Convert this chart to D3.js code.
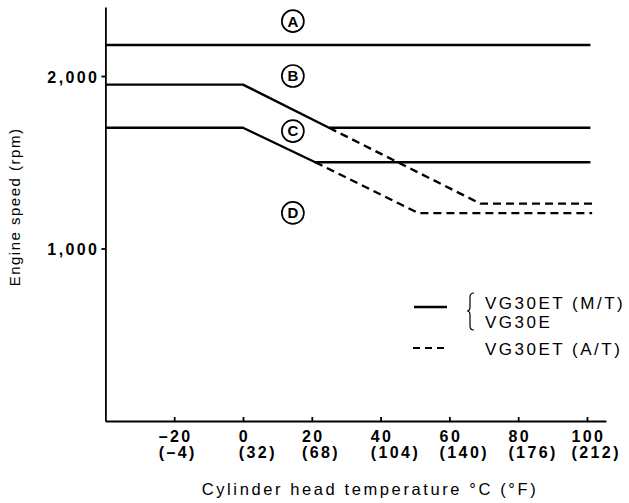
<!DOCTYPE html>
<meta charset="utf-8">

<!-- Load d3.js -->
<script src="https://d3js.org/d3.v7.min.js"></script>

<style>
    body { margin: 0; background: #fff; }
    svg { font-family: "Liberation Sans", Arial, sans-serif; }
    .axis path, .axis line { stroke: #000; stroke-width: 1.8px; }
    .tick-label { font-size: 16px; font-weight: bold; letter-spacing: 2.4px; fill: #000; }
    .title { font-size: 15px; letter-spacing: 1.5px; fill: #000; }
    .xtitle { font-size: 16.5px; letter-spacing: 2.6px; fill: #000; }
    .legend-text { font-size: 17px; letter-spacing: 2.5px; fill: #000; }
    .curve { fill: none; stroke: #000; stroke-width: 2.4px; stroke-linejoin: round; }
    .dashed { stroke-dasharray: 8, 5; }
    .marker circle { fill: #fff; stroke: #000; stroke-width: 1.7px; }
    .marker text { font-size: 15px; font-weight: bold; text-anchor: middle; }
</style>

<div id="chart"></div>

<script>
    // temperature ticks, degC and the matching degF
    let celsius = [-20, 0, 20, 40, 60, 80, 100];
    let fahrenheit = [-4, 32, 68, 104, 140, 176, 212];
    let rpmTicks = [1000, 2000];

    // solid lines: VG30ET (M/T) and VG30E, [temp, rpm]
    let lineA = [[-40, 2180], [101, 2180]];
    let lineB = [[-40, 1950], [0, 1950], [25, 1700], [101, 1700]];
    let lineC = [[-40, 1700], [0, 1700], [21, 1500], [101, 1500]];
    // dashed lines: VG30ET (A/T)
    let lineBdash = [[25, 1700], [69, 1260], [101.5, 1260]];
    let lineCdash = [[21, 1500], [51, 1205], [101.5, 1205]];

    // circled letters, [name, temp, rpm]
    let markers = [["A", 14.5, 2318], ["B", 14.5, 2000], ["C", 14.5, 1681], ["D", 14.5, 1206]];

    let width = 629, height = 503;

    let svg = d3.select("#chart")
        .append("svg")
        .attr("width", width)
        .attr("height", height);

    let x = d3.scaleLinear().domain([-40, 105.5]).range([105.4, 605.9]);
    let y = d3.scaleLinear().domain([0, 2400]).range([421, 7]);

    // x axis, ticks pointing up
    let xAxis = svg.append("g")
        .attr("class", "axis")
        .attr("transform", "translate(0," + y(0) + ")")
        .call(d3.axisBottom(x).tickValues(celsius).tickSizeInner(-4).tickSizeOuter(0)
            .tickFormat(d => String(d).replace("-", "\u2013")));

    xAxis.selectAll(".tick text")
        .attr("class", "tick-label")
        .attr("x", 1)
        .attr("y", 21)
        .attr("dy", 0);

    // second row in degF, left aligned with the degC label
    xAxis.selectAll(".tick").each(function (d, i) {
        let g = d3.select(this);
        let box = g.select("text").node().getBBox();
        g.append("text")
            .attr("class", "tick-label")
            .attr("x", box.x)
            .attr("y", 37)
            .attr("text-anchor", "start")
            .text("(" + String(fahrenheit[i]).replace("-", "\u2013") + ")");
    });

    // y axis
    let yAxis = svg.append("g")
        .attr("class", "axis")
        .attr("transform", "translate(" + x(-40) + ",0)")
        .call(d3.axisLeft(y).tickValues(rpmTicks).tickSizeInner(4).tickSizeOuter(0)
            .tickFormat(d3.format(",")));

    yAxis.selectAll(".tick text")
        .attr("class", "tick-label")
        .attr("x", -6)
        .attr("dy", "0.38em");

    // axis titles
    svg.append("text")
        .attr("class", "title")
        .attr("text-anchor", "middle")
        .attr("transform", "translate(20,207) rotate(-90)")
        .text("Engine speed (rpm)");

    svg.append("text")
        .attr("class", "xtitle")
        .attr("text-anchor", "middle")
        .attr("x", 370)
        .attr("y", 495)
        .text("Cylinder head temperature  \u00b0C (\u00b0F)");

    let line = d3.line()
        .x(d => x(d[0]))
        .y(d => y(d[1]));

    for (let data of [lineA, lineB, lineC]) {
        svg.append("path").datum(data).attr("class", "curve").attr("d", line);
    }
    for (let data of [lineBdash, lineCdash]) {
        svg.append("path").datum(data).attr("class", "curve dashed").attr("d", line);
    }

    // circled letters
    let mk = svg.selectAll(".marker")
        .data(markers)
        .enter()
        .append("g")
        .attr("class", "marker")
        .attr("transform", d => "translate(" + x(d[1]) + "," + y(d[2]) + ")");
    mk.append("circle").attr("r", 11);
    mk.append("text").attr("dy", "0.36em").text(d => d[0]);

    // legend
    let legend = svg.append("g");
    legend.append("line")
        .attr("x1", 414).attr("x2", 447).attr("y1", 307).attr("y2", 307)
        .attr("stroke", "#000").attr("stroke-width", 2.4);
    legend.append("line")
        .attr("x1", 413).attr("x2", 447).attr("y1", 348).attr("y2", 348)
        .attr("stroke", "#000").attr("stroke-width", 2).attr("stroke-dasharray", "7,5");
    legend.append("path")
        .attr("d", "M474,293 Q470,293 470,297 L470,307 Q470,311 467,311 Q470,311 470,315 L470,326 Q470,330 474,330")
        .attr("fill", "none").attr("stroke", "#000").attr("stroke-width", 1.2);
    legend.append("text").attr("class", "legend-text").attr("x", 485).attr("y", 309).text("VG30ET (M/T)");
    legend.append("text").attr("class", "legend-text").attr("x", 485).attr("y", 328).text("VG30E");
    legend.append("text").attr("class", "legend-text").attr("x", 485).attr("y", 355).text("VG30ET (A/T)");
</script>
